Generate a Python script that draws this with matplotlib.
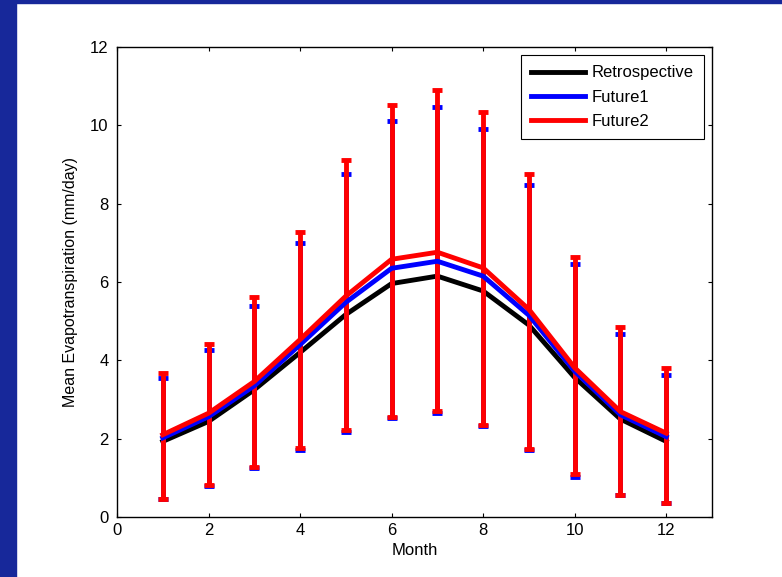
import numpy as np
import matplotlib.pyplot as plt
from matplotlib.patches import Rectangle

plt.rcParams['font.family'] = ['Liberation Sans', 'DejaVu Sans']

# monthly mean evapotranspiration (mm/day)
months = np.arange(1, 13)
retro = [1.93, 2.44, 3.25, 4.20, 5.17, 5.96, 6.15, 5.77, 4.90, 3.56, 2.50, 1.93]
fut1 = [2.02, 2.56, 3.35, 4.40, 5.48, 6.35, 6.53, 6.15, 5.15, 3.72, 2.61, 2.05]
fut2 = [2.10, 2.65, 3.46, 4.53, 5.64, 6.58, 6.76, 6.36, 5.30, 3.81, 2.69, 2.14]

# error bar limits (upper / lower ends)
fut1_hi = [3.55, 4.26, 5.40, 7.00, 8.75, 10.12, 10.47, 9.90, 8.47, 6.45, 4.66, 3.63]
fut1_lo = [0.45, 0.80, 1.25, 1.72, 2.18, 2.52, 2.65, 2.32, 1.70, 1.03, 0.55, 0.35]
fut2_hi = [3.68, 4.42, 5.62, 7.27, 9.11, 10.52, 10.89, 10.33, 8.75, 6.65, 4.85, 3.80]
fut2_lo = [0.46, 0.82, 1.27, 1.76, 2.22, 2.56, 2.70, 2.36, 1.73, 1.10, 0.56, 0.37]

fig = plt.figure(figsize=(7.82, 5.77), dpi=100)
fig.patch.set_facecolor('white')
# slide background strips
fig.patches.append(Rectangle((0, 0), 16 / 782, 1, transform=fig.transFigure,
                             color='#17289a', zorder=0))
fig.patches.append(Rectangle((0, 1 - 3 / 577), 1, 3 / 577, transform=fig.transFigure,
                             color='#17289a', zorder=0))

ax = fig.add_axes([117 / 782, 1 - 517 / 577, (712 - 117) / 782, (517 - 47) / 577])

lw = 3.5
ax.plot(months, retro, color='black', lw=lw, label='Retrospective')

e1 = [np.array(fut1) - np.array(fut1_lo), np.array(fut1_hi) - np.array(fut1)]
ax.errorbar(months, fut1, yerr=e1, color='blue', lw=lw, elinewidth=lw,
            capsize=3.3, capthick=lw, label='Future1')

e2 = [np.array(fut2) - np.array(fut2_lo), np.array(fut2_hi) - np.array(fut2)]
ax.errorbar(months, fut2, yerr=e2, color='red', lw=lw, elinewidth=lw,
            capsize=3.3, capthick=lw, label='Future2')

ax.set_xlim(0, 13)
ax.set_ylim(0, 12)
ax.set_xticks(range(0, 13, 2))
ax.set_yticks(range(0, 13, 2))
ax.tick_params(direction='in', top=True, right=True, length=3, width=0.8,
               labelsize=12)
ax.tick_params(axis='y', pad=6)
ax.tick_params(axis='x', pad=4)
for s in ax.spines.values():
    s.set_linewidth(1.0)

ax.set_xlabel('Month', fontsize=12, labelpad=4)
ax.set_ylabel('Mean Evapotranspiration (mm/day)', fontsize=11.5, labelpad=9)

labels = ['Retrospective', 'Future1', 'Future2']
handles = [plt.Line2D([], [], color=c, lw=lw) for c in ['black', 'blue', 'red']]
leg = ax.legend(handles, labels, loc='upper right', fontsize=12, frameon=True,
                fancybox=False, edgecolor='black', framealpha=1,
                handlelength=3.25, borderaxespad=0.5, labelspacing=0.55,
                handletextpad=0.4, borderpad=0.6)
leg.get_frame().set_linewidth(0.8)

fig.savefig('out.png', dpi=100)
